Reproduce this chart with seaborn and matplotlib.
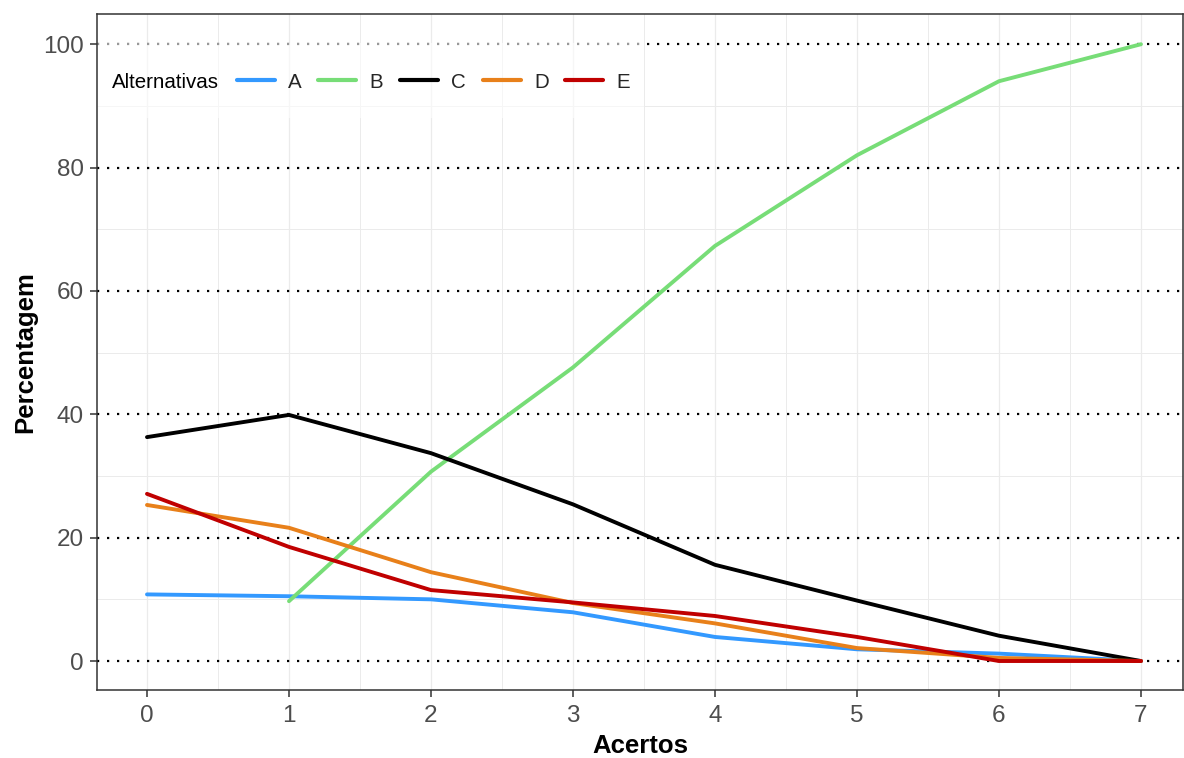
import pandas as pd
import matplotlib.pyplot as plt
import seaborn as sns
from matplotlib.patches import Rectangle

# Data
acertos = [0, 1, 2, 3, 4, 5, 6, 7]
alt_a = [10.8, 10.5, 10.0, 7.9, 3.9, 1.9, 1.2, 0.0]
alt_b = [None, 9.7, 30.7, 47.6, 67.3, 82.0, 94.0, 100.0]
alt_c = [36.3, 39.9, 33.7, 25.4, 15.6, 9.8, 4.1, 0.0]
alt_d = [25.3, 21.6, 14.4, 9.4, 6.1, 2.1, 0.5, 0.0]
alt_e = [27.1, 18.5, 11.5, 9.5, 7.3, 3.9, 0.0, 0.0]
alternativas = ["A", "B", "C", "D", "E"]
cores = ["#3399FF", "#77DD77", "#000000", "#E8801A", "#C00000"]
y_ticks = [0, 20, 40, 60, 80, 100]

series = dict(zip(alternativas, [alt_a, alt_b, alt_c, alt_d, alt_e]))
rows = []
for alt, vals in series.items():
    for x, v in zip(acertos, vals):
        if v is not None:
            rows.append({"Acertos": x, "Percentagem": v, "Alternativas": alt})
df = pd.DataFrame(rows)

sns.set_theme(style="white")
plt.rcParams['font.family'] = ['Liberation Sans', 'DejaVu Sans']

fig = plt.figure(figsize=(11.84, 7.58), dpi=100)
ax = fig.add_axes([97 / 1184, 1 - 690 / 758, 1086 / 1184, 676 / 758])

# grid like theme_bw
for x in acertos:
    ax.axvline(x, color="#ebebeb", lw=0.9, zorder=0)
    ax.axvline(x + 0.5, color="#ebebeb", lw=0.7, zorder=0)
ax.axvline(-0.5, color="#ebebeb", lw=0.7, zorder=0)
for y in range(10, 101, 20):
    ax.axhline(y, color="#ebebeb", lw=0.7, zorder=0)

# dotted reference lines
for y in y_ticks:
    ax.axhline(y, color="black", lw=1.6, linestyle=(0, (1, 3.5)), zorder=1)

sns.lineplot(data=df, x="Acertos", y="Percentagem", hue="Alternativas",
             hue_order=alternativas, palette=dict(zip(alternativas, cores)),
             linewidth=2.8, ax=ax, zorder=3)

ax.set_xlim(-0.352, 7.296)
ax.set_ylim(-4.7, 104.9)
ax.set_xticks(acertos)
ax.set_yticks(y_ticks)
ax.tick_params(axis="both", colors="#333333", labelcolor="#4D4D4D",
               labelsize=17.5, length=5, width=1.1, direction="out",
               bottom=True, left=True, pad=4.5)
ax.tick_params(axis="x", pad=6)
for s in ax.spines.values():
    s.set_color("#333333")
    s.set_linewidth(1.1)

ax.set_xlabel("Acertos", fontsize=18.5, fontweight="bold", color="black", labelpad=5)
ax.set_ylabel("Percentagem", fontsize=18.5, fontweight="bold", color="black", labelpad=4.5)

# legend: white box with inline title
handles, labels = ax.get_legend_handles_labels()
ax.get_legend().remove()
ax.add_patch(Rectangle((0, (690 - 118) / 676), (644 - 97) / 1086, 75 / 676,
                       transform=ax.transAxes, facecolor="white", alpha=0.6,
                       edgecolor="none", zorder=2))
ax.text((112 - 97) / 1086, (690 - 82) / 676, "Alternativas", transform=ax.transAxes,
        fontsize=14.8, color="black", va="center", ha="left", zorder=4)
leg = ax.legend(handles, labels, ncol=5, frameon=False, fontsize=14.8,
                loc="center left", bbox_to_anchor=((237 - 97) / 1086, (690 - 82) / 676),
                borderpad=0, borderaxespad=0, handlelength=1.85, handletextpad=0.65,
                columnspacing=0.8)
for line in leg.get_lines():
    line.set_linewidth(3)

plt.savefig("out.png", dpi=100)
